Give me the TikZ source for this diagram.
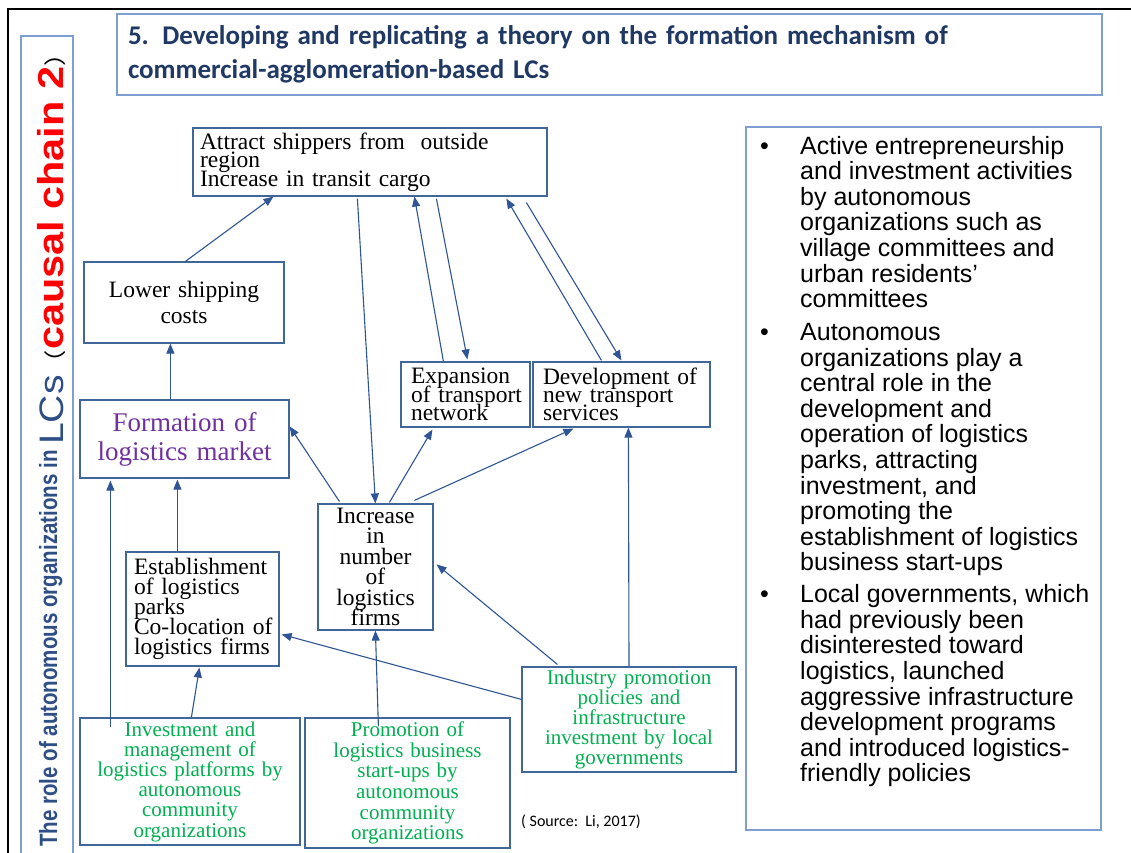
\documentclass[tikz,border=0pt]{standalone}
\usepackage{fontspec}
\setmainfont{Liberation Serif}
\newfontfamily\titlefont{Carlito}
\newfontfamily\sansfont{Liberation Sans}
\newfontfamily\cjkfont{Noto Sans CJK SC}
\usetikzlibrary{arrows.meta}
\definecolor{boxblue}{HTML}{41669A}
\definecolor{lightblue}{HTML}{7F9FD3}
\definecolor{connblue}{HTML}{2F5597}
\definecolor{navy}{HTML}{1F3864}
\definecolor{vblue}{HTML}{2E4E86}
\definecolor{mygreen}{HTML}{00B050}
\definecolor{mypurple}{HTML}{7030A0}
\newcommand\lbx[1]{\mbox{#1}}
\newcommand\tightlines{\lineskiplimit=-60pt\lineskip=0pt}
\begin{document}
\begin{tikzpicture}[x=1pt,y=-1pt,
  box/.style={draw=boxblue, line width=1.2pt, inner ysep=0pt},
  blackfont/.style={font=\fontsize{23.5}{#1}\selectfont\tightlines},
  greenfont/.style={text=mygreen, font=\fontsize{21}{#1}\selectfont\tightlines},
  lightbox/.style={draw=lightblue, line width=1.1pt},
  conn/.style={draw=connblue, line width=1.1pt, -{Triangle[length=10pt,width=8pt]}},
]
\useasboundingbox (0,0) rectangle (1131,852);
\fill[white] (0,0) rectangle (1131,852);
% outer frame
\draw[line width=2pt] (8,870) -- (8,9) -- (1140,9);

% title
\node[lightbox, minimum width=985pt, minimum height=81pt, text width=963pt, inner xsep=11pt, inner ysep=0pt, align=left, text=navy, font=\titlefont\bfseries\fontsize{27}{34}\selectfont\tightlines] (title) at (609.5,54.5)
 {5. Developing and replicating a theory on the formation mechanism of\\ commercial-agglomeration-based LCs};

% vertical side box and text
\node[lightbox, minimum width=52pt, minimum height=834pt, inner sep=0pt] (vbox) at (47,453) {};
\node[rotate=90, anchor=base west, inner sep=0pt] (vt1) at (57,847) {\scalebox{0.82}[1]{\sansfont\bfseries\fontsize{25}{25}\selectfont\color{vblue}The role of autonomous organizations in}};
\node[rotate=90, anchor=base west, inner sep=0pt] (vt2) at (63,445) {\scalebox{1.15}[1]{{\sansfont\fontsize{34}{34}\selectfont\color{vblue}LCs}{\cjkfont\fontsize{22}{22}\selectfont （}{\sansfont\bfseries\fontsize{36}{36}\selectfont\color{red}causal chain 2}{\cjkfont\fontsize{22}{22}\selectfont ）}}};

% boxes
\node[box, minimum width=354pt, minimum height=68pt, text width=340pt, inner xsep=7pt, align=left, blackfont=18.5] (attract) at (370,162)
 {\lbx{Attract shippers from\ \ outside}\\ \lbx{region}\\ \lbx{Increase in transit cargo}};
\node[box, minimum width=200pt, minimum height=81pt, text width=190pt, inner xsep=5pt, align=center, blackfont=26] (lower) at (184,302.5)
 {Lower shipping\\ costs};
\node[box, minimum width=209pt, minimum height=78pt, text width=199pt, inner xsep=5pt, align=center, text=mypurple, font=\fontsize{27}{29}\selectfont\tightlines] (formation) at (184.5,439)
 {Formation of\\ logistics market};
\node[box, minimum width=153pt, minimum height=114pt, text width=137pt, inner xsep=8pt, align=left, blackfont=20] (estab) at (202.5,609)
 {\lbx{Establishment}\\ \lbx{of logistics}\\ \lbx{parks}\\ \lbx{Co-location of}\\ \lbx{logistics firms}};
\node[box, minimum width=115pt, minimum height=126pt, text width=107pt, inner xsep=4pt, align=center, blackfont=20.4] (incr) at (375.5,567)
 {Increase\\ in\\ number\\ of\\ logistics\\ firms};
\node[box, minimum width=129pt, minimum height=65pt, text width=109pt, inner xsep=10pt, align=left, blackfont=18.3] (expan) at (465.5,394.5)
 {\lbx{Expansion}\\ \lbx{of transport}\\ \lbx{network}};
\node[box, minimum width=177pt, minimum height=65pt, text width=157pt, inner xsep=10pt, align=left, blackfont=18.3] (devel) at (621.5,394.5)
 {\lbx{Development of}\\ \lbx{new transport}\\ \lbx{services}};
\node[box, minimum width=214pt, minimum height=105pt, text width=206pt, inner xsep=4pt, align=center, greenfont=20.2] (industry) at (629,719.5)
 {Industry promotion\\ policies and\\ infrastructure\\ investment by local\\ governments};
\node[box, minimum width=220pt, minimum height=127pt, text width=212pt, inner xsep=4pt, align=center, greenfont=20.2] (invest) at (190,781.5)
 {Investment and\\ management of\\ logistics platforms by\\ autonomous\\ community\\ organizations};
\node[box, minimum width=205pt, minimum height=130pt, text width=197pt, inner xsep=4pt, align=center, greenfont=20.6] (promo) at (407.5,783)
 {Promotion of\\ logistics business\\ start-ups by\\ autonomous\\ community\\ organizations};

\node[anchor=west, inner sep=0pt, font=\titlefont\fontsize{16}{16}\selectfont] (src) at (521,822) {( Source:\ \ Li, 2017)};

% right text box
\node[lightbox, minimum width=355pt, minimum height=703pt, inner sep=0pt] (rbox) at (923.5,478.5) {};
\node[anchor=north west, inner sep=0pt, align=left, font=\sansfont\fontsize{25}{25.55}\selectfont\tightlines] (rtext) at (760,136)
 {\makebox[40pt][l]{•}Active entrepreneurship\\
  \hspace*{40pt}and investment activities\\
  \hspace*{40pt}by autonomous\\
  \hspace*{40pt}organizations such as\\
  \hspace*{40pt}village committees and\\
  \hspace*{40pt}urban residents’\\
  \hspace*{40pt}committees\\[7.6pt]
  \makebox[40pt][l]{•}Autonomous\\
  \hspace*{40pt}organizations play a\\
  \hspace*{40pt}central role in the\\
  \hspace*{40pt}development and\\
  \hspace*{40pt}operation of logistics\\
  \hspace*{40pt}parks, attracting\\
  \hspace*{40pt}investment, and\\
  \hspace*{40pt}promoting the\\
  \hspace*{40pt}establishment of logistics\\
  \hspace*{40pt}business start-ups\\[6.6pt]
  \makebox[40pt][l]{•}Local governments, which\\
  \hspace*{40pt}had previously been\\
  \hspace*{40pt}disinterested toward\\
  \hspace*{40pt}logistics, launched\\
  \hspace*{40pt}aggressive infrastructure\\
  \hspace*{40pt}development programs\\
  \hspace*{40pt}and introduced logistics-\\
  \hspace*{40pt}friendly policies};

% connectors
\draw[conn] ([xshift=102pt]lower.north west) -- ([xshift=81pt]attract.south west);
\draw[conn] ([xshift=91pt]formation.north west) -- ([xshift=87pt]lower.south west);
\draw[conn] ([xshift=165pt,yshift=-2pt]attract.south west) -- ([xshift=58pt]incr.north west);
\draw[conn] ([xshift=43pt]expan.north west) -- ([xshift=222pt]attract.south west);
\draw[conn] ([xshift=244pt,yshift=-2pt]attract.south west) -- ([xshift=67pt,yshift=2pt]expan.north west);
\draw[conn] ([xshift=69pt,yshift=1pt]devel.north west) -- ([xshift=314pt,yshift=-2pt]attract.south west);
\draw[conn] ([xshift=334pt,yshift=-6pt]attract.south west) -- ([xshift=89pt,yshift=1pt]devel.north west);
\draw[conn] ([xshift=22pt,yshift=2pt]incr.north west) -- ([yshift=-27pt]formation.north east);
\draw[conn] ([xshift=72pt,yshift=1pt]incr.north west) -- ([xshift=32pt,yshift=-2pt]expan.south west);
\draw[conn] ([xshift=97pt,yshift=3pt]incr.north west) -- ([xshift=41pt,yshift=-1pt]devel.south west);
\draw[conn] (industry.north) -- ([xshift=96pt]devel.south west);
\draw[conn] ([xshift=36pt,yshift=2pt]industry.north west) -- ([xshift=3pt,yshift=-61pt]incr.north east);
\draw[conn] ([yshift=-33pt]industry.north west) -- ([xshift=2pt,yshift=-83pt]estab.north east);
\draw[conn] ([xshift=74pt,yshift=-9pt]promo.north west) -- ([xshift=58pt]incr.south west);
\draw[conn] ([xshift=31pt,yshift=-10pt]invest.north west) -- ([xshift=31pt,yshift=-2pt]formation.south west);
\draw[conn] ([xshift=112pt]invest.north west) -- ([xshift=74pt,yshift=-1pt]estab.south west);
\draw[conn] ([xshift=52pt]estab.north west) -- ([xshift=98pt,yshift=-1pt]formation.south west);
\end{tikzpicture}
\end{document}
